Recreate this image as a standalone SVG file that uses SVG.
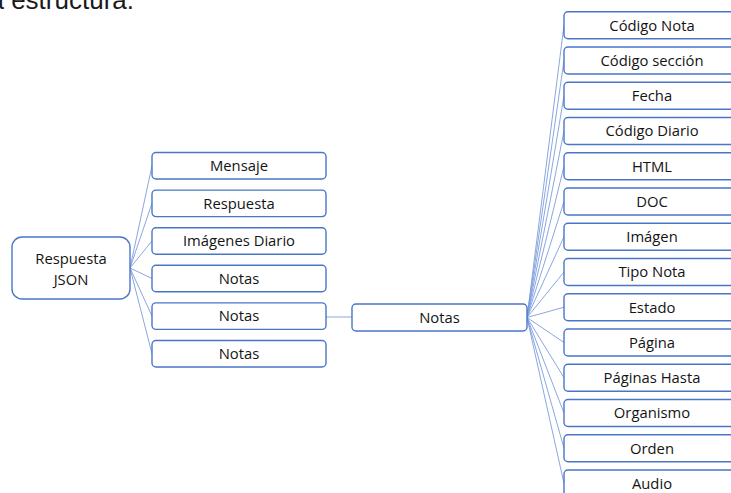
<svg xmlns="http://www.w3.org/2000/svg" width="731" height="493" viewBox="0 0 731 493">
<style>
.box{fill:#ffffff;stroke:#4a76c8;stroke-width:1.4}
.lbl{font-family:"Open Sans","Noto Sans",sans-serif;font-size:14.8px;fill:#141414;text-anchor:middle}
.con{stroke:#7c9ddc;stroke-width:0.9;fill:none}
.cap{font-family:"Liberation Sans",Arial,sans-serif;font-size:26px;fill:#1a1a1a;text-anchor:end}
</style>
<rect width="731" height="493" fill="#ffffff"/>
<text class="cap" x="134" y="9">la estructura.</text>
<g id="connectors">
<line class="con" x1="130" y1="268" x2="152" y2="165.7"/>
<line class="con" x1="130" y1="268" x2="152" y2="203.3"/>
<line class="con" x1="130" y1="268" x2="152" y2="240.9"/>
<line class="con" x1="130" y1="268" x2="152" y2="278.5"/>
<line class="con" x1="130" y1="268" x2="152" y2="316.1"/>
<line class="con" x1="130" y1="268" x2="152" y2="353.7"/>
<line class="con" x1="326" y1="317" x2="352" y2="317"/>
<line class="con" x1="527" y1="317.5" x2="564" y2="25.2"/>
<line class="con" x1="527" y1="317.5" x2="564" y2="60.5"/>
<line class="con" x1="527" y1="317.5" x2="564" y2="95.7"/>
<line class="con" x1="527" y1="317.5" x2="564" y2="131"/>
<line class="con" x1="527" y1="317.5" x2="564" y2="166.2"/>
<line class="con" x1="527" y1="317.5" x2="564" y2="201.5"/>
<line class="con" x1="527" y1="317.5" x2="564" y2="236.7"/>
<line class="con" x1="527" y1="317.5" x2="564" y2="272"/>
<line class="con" x1="527" y1="317.5" x2="564" y2="307.2"/>
<line class="con" x1="527" y1="317.5" x2="564" y2="342.5"/>
<line class="con" x1="527" y1="317.5" x2="564" y2="377.7"/>
<line class="con" x1="527" y1="317.5" x2="564" y2="413"/>
<line class="con" x1="527" y1="317.5" x2="564" y2="448.2"/>
<line class="con" x1="527" y1="317.5" x2="564" y2="483.5"/>
</g>
<g id="root"><rect class="box" x="12" y="237" width="118" height="62" rx="10"/><text class="lbl" x="71" y="264">Respuesta</text><text class="lbl" x="71" y="285">JSON</text></g>
<g id="mensaje"><rect class="box" x="152" y="152.5" width="174" height="26.5" rx="4"/><text class="lbl" x="239" y="171">Mensaje</text></g>
<g id="respuesta"><rect class="box" x="152" y="190.1" width="174" height="26.5" rx="4"/><text class="lbl" x="239" y="208.6">Respuesta</text></g>
<g id="imagenes"><rect class="box" x="152" y="227.7" width="174" height="26.5" rx="4"/><text class="lbl" x="239" y="246.2">Imágenes Diario</text></g>
<g id="notas1"><rect class="box" x="152" y="265.3" width="174" height="26.5" rx="4"/><text class="lbl" x="239" y="283.8">Notas</text></g>
<g id="notas2"><rect class="box" x="152" y="302.9" width="174" height="26.5" rx="4"/><text class="lbl" x="239" y="321.4">Notas</text></g>
<g id="notas3"><rect class="box" x="152" y="340.5" width="174" height="26.5" rx="4"/><text class="lbl" x="239" y="359">Notas</text></g>
<g id="notas-mid"><rect class="box" x="352" y="304" width="175" height="27" rx="4"/><text class="lbl" x="439.5" y="322.8">Notas</text></g>
<g id="f1"><rect class="box" x="564" y="11.7" width="176" height="27" rx="4"/><text class="lbl" x="652" y="30.5">Código Nota</text></g>
<g id="f2"><rect class="box" x="564" y="47" width="176" height="27" rx="4"/><text class="lbl" x="652" y="65.8">Código sección</text></g>
<g id="f3"><rect class="box" x="564" y="82.2" width="176" height="27" rx="4"/><text class="lbl" x="652" y="101">Fecha</text></g>
<g id="f4"><rect class="box" x="564" y="117.5" width="176" height="27" rx="4"/><text class="lbl" x="652" y="136.3">Código Diario</text></g>
<g id="f5"><rect class="box" x="564" y="152.7" width="176" height="27" rx="4"/><text class="lbl" x="652" y="171.5">HTML</text></g>
<g id="f6"><rect class="box" x="564" y="188" width="176" height="27" rx="4"/><text class="lbl" x="652" y="206.8">DOC</text></g>
<g id="f7"><rect class="box" x="564" y="223.2" width="176" height="27" rx="4"/><text class="lbl" x="652" y="242">Imágen</text></g>
<g id="f8"><rect class="box" x="564" y="258.5" width="176" height="27" rx="4"/><text class="lbl" x="652" y="277.3">Tipo Nota</text></g>
<g id="f9"><rect class="box" x="564" y="293.7" width="176" height="27" rx="4"/><text class="lbl" x="652" y="312.5">Estado</text></g>
<g id="f10"><rect class="box" x="564" y="329" width="176" height="27" rx="4"/><text class="lbl" x="652" y="347.8">Página</text></g>
<g id="f11"><rect class="box" x="564" y="364.2" width="176" height="27" rx="4"/><text class="lbl" x="652" y="383">Páginas Hasta</text></g>
<g id="f12"><rect class="box" x="564" y="399.5" width="176" height="27" rx="4"/><text class="lbl" x="652" y="418.3">Organismo</text></g>
<g id="f13"><rect class="box" x="564" y="434.7" width="176" height="27" rx="4"/><text class="lbl" x="652" y="453.5">Orden</text></g>
<g id="f14"><rect class="box" x="564" y="470" width="176" height="27" rx="4"/><text class="lbl" x="652" y="488.8">Audio</text></g>
</svg>
